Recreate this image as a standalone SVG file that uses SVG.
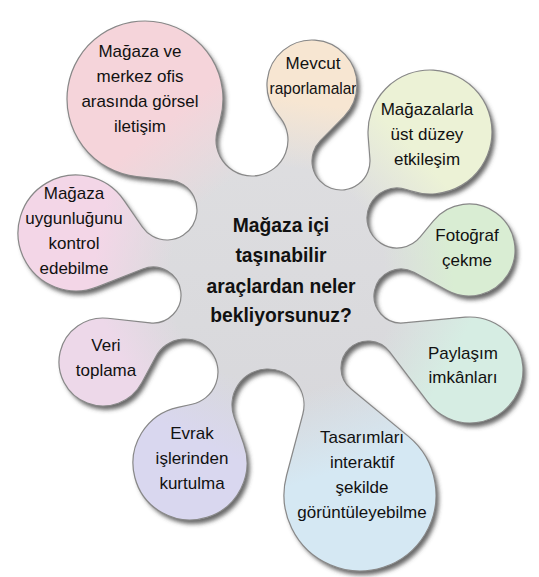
<svg xmlns="http://www.w3.org/2000/svg" xmlns:xlink="http://www.w3.org/1999/xlink" width="539" height="577" viewBox="0 0 539 577">
<style>
.t{font-family:"Liberation Sans",Arial,Helvetica,sans-serif;font-size:17px;fill:#111;text-anchor:middle}
.c{font-weight:bold;font-size:19.3px}
.w{clip-path:url(#clip)}
</style>
<defs>
<path id="blob" d="M 136.62 176.55 A 78 78 0 1 1 220.29 119.39 L 217.25 130.59 A 36 36 0 1 0 280.79 118.38 L 276.01 112.02 A 45 45 0 1 1 344.05 116.58 L 320.34 140.65 A 29 29 0 1 0 369.91 158.73 L 368.19 136.85 A 62 62 0 1 1 410.64 190.91 L 406.37 189.50 A 30 30 0 1 0 420.23 236.98 L 433.38 220.89 A 46 46 0 1 1 446.91 290.35 L 413.97 272.32 A 27 27 0 1 0 403.47 322.89 L 465.15 317.22 A 53 53 0 1 1 427.80 402.07 L 389.50 351.66 A 27 27 0 1 0 350.80 388.81 L 408.41 436.41 A 76 76 0 1 1 286.55 475.52 L 302.79 414.23 A 36 36 0 1 0 234.11 417.15 L 243.65 443.76 A 57 57 0 1 1 177.93 407.29 L 191.99 404.25 A 33 33 0 1 0 155.92 356.41 L 141.78 382.79 A 44 44 0 1 1 107.74 318.26 L 149.98 322.84 A 28 28 0 1 0 142.69 268.97 L 97.36 286.93 A 58 58 0 1 1 123.78 200.11 L 142.29 227.01 A 30 30 0 1 0 170.22 180.17 Z"/>
<clipPath id="clip"><use xlink:href="#blob"/></clipPath>
<filter id="sh" x="-10%" y="-10%" width="120%" height="120%">
<feGaussianBlur in="SourceAlpha" stdDeviation="2.2"/>
<feOffset dx="3" dy="3.5" result="b"/>
<feFlood flood-color="#444" flood-opacity="0.8"/>
<feComposite in2="b" operator="in"/>
</filter>
<linearGradient id="gc" x1="0" y1="0" x2="0" y2="1">
<stop offset="0" stop-color="#e0e0e2"/><stop offset="1" stop-color="#d5d5d9"/>
</linearGradient>
<linearGradient id="g1" gradientUnits="userSpaceOnUse" x1="145" y1="99" x2="283" y2="272"><stop offset="0.14" stop-color="#f5d4da"/><stop offset="0.53" stop-color="#f5d4da" stop-opacity="0"/></linearGradient>
<linearGradient id="g2" gradientUnits="userSpaceOnUse" x1="312" y1="85" x2="283" y2="272"><stop offset="0.095" stop-color="#f7e6d2"/><stop offset="0.45" stop-color="#f7e6d2" stop-opacity="0"/></linearGradient>
<linearGradient id="g3" gradientUnits="userSpaceOnUse" x1="430" y1="132" x2="283" y2="272"><stop offset="0.12" stop-color="#ecf2d6"/><stop offset="0.50" stop-color="#ecf2d6" stop-opacity="0"/></linearGradient>
<linearGradient id="g4" gradientUnits="userSpaceOnUse" x1="469" y1="250" x2="283" y2="272"><stop offset="0.10" stop-color="#d9edd3"/><stop offset="0.46" stop-color="#d9edd3" stop-opacity="0"/></linearGradient>
<linearGradient id="g5" gradientUnits="userSpaceOnUse" x1="470" y1="370" x2="283" y2="272"><stop offset="0.10" stop-color="#d6ede3"/><stop offset="0.44" stop-color="#d6ede3" stop-opacity="0"/></linearGradient>
<linearGradient id="g6" gradientUnits="userSpaceOnUse" x1="360" y1="495" x2="283" y2="272"><stop offset="0.13" stop-color="#d5e8f3"/><stop offset="0.49" stop-color="#d5e8f3" stop-opacity="0"/></linearGradient>
<linearGradient id="g7" gradientUnits="userSpaceOnUse" x1="190" y1="463" x2="283" y2="272"><stop offset="0.11" stop-color="#d9d7ef"/><stop offset="0.46" stop-color="#d9d7ef" stop-opacity="0"/></linearGradient>
<linearGradient id="g8" gradientUnits="userSpaceOnUse" x1="103" y1="362" x2="283" y2="272"><stop offset="0.09" stop-color="#edd8e9"/><stop offset="0.42" stop-color="#edd8e9" stop-opacity="0"/></linearGradient>
<linearGradient id="g9" gradientUnits="userSpaceOnUse" x1="76" y1="233" x2="283" y2="272"><stop offset="0.11" stop-color="#f3d6e7"/><stop offset="0.47" stop-color="#f3d6e7" stop-opacity="0"/></linearGradient>
</defs>

<g id="blob-shape">
<use xlink:href="#blob" fill="#000" filter="url(#sh)"/>
<use xlink:href="#blob" fill="url(#gc)"/>
</g>

<g id="node-center">
<text class="t c" x="281" y="232">Mağaza içi</text>
<text class="t c" x="281" y="262">taşınabilir</text>
<text class="t c" x="281" y="293">araçlardan neler</text>
<text class="t c" x="281" y="322">bekliyorsunuz?</text>
</g>

<g id="node-gorsel-iletisim">
<polygon class="w" fill="url(#g1)" points="283,272 -181,24 -269,-420 159,-256"/>
<text class="t" x="140" y="57">Mağaza ve</text>
<text class="t" x="140" y="82">merkez ofis</text>
<text class="t" x="140" y="107">arasında görsel</text>
<text class="t" x="140" y="132">iletişim</text>
</g>

<g id="node-mevcut">
<polygon class="w" fill="url(#g2)" points="283,272 159,-256 399,-476 515,-172"/>
<text class="t" x="313" y="69">Mevcut</text>
<text class="t" x="313" y="94" textLength="87" lengthAdjust="spacingAndGlyphs">raporlamalar</text>
</g>

<g id="node-ust-duzey">
<polygon class="w" fill="url(#g3)" points="283,272 515,-172 871,-288 739,56"/>
<text class="t" x="427" y="115">Mağazalarla</text>
<text class="t" x="427" y="140">üst düzey</text>
<text class="t" x="427" y="165">etkileşim</text>
</g>

<g id="node-fotograf">
<polygon class="w" fill="url(#g4)" points="283,272 739,56 1027,184 755,368"/>
<text class="t" x="467" y="241">Fotoğraf</text>
<text class="t" x="467" y="266">çekme</text>
</g>

<g id="node-paylasim">
<polygon class="w" fill="url(#g5)" points="283,272 755,368 1031,664 623,656"/>
<text class="t" x="463" y="359">Paylaşım</text>
<text class="t" x="463" y="383">imkânları</text>
</g>

<g id="node-tasarim">
<polygon class="w" fill="url(#g6)" points="283,272 623,656 591,1164 223,804"/>
<text class="t" x="362" y="443">Tasarımları</text>
<text class="t" x="362" y="468">interaktif</text>
<text class="t" x="362" y="493">şekilde</text>
<text class="t" x="362" y="518">görüntüleyebilme</text>
</g>

<g id="node-evrak">
<polygon class="w" fill="url(#g7)" points="283,272 223,804 -89,1036 -109,672"/>
<text class="t" x="192" y="439">Evrak</text>
<text class="t" x="192" y="464">işlerinden</text>
<text class="t" x="192" y="489">kurtulma</text>
</g>

<g id="node-veri">
<polygon class="w" fill="url(#g8)" points="283,272 -109,672 -437,632 -237,364"/>
<text class="t" x="106" y="351">Veri</text>
<text class="t" x="106" y="376">toplama</text>
</g>

<g id="node-uygunluk">
<polygon class="w" fill="url(#g9)" points="283,272 -237,364 -545,116 -181,24"/>
<text class="t" x="74" y="199">Mağaza</text>
<text class="t" x="74" y="224">uygunluğunu</text>
<text class="t" x="74" y="249">kontrol</text>
<text class="t" x="74" y="274">edebilme</text>
</g>

<g id="outline">
<use xlink:href="#blob" fill="none" stroke="#888" stroke-width="1.2"/>
</g>
</svg>
